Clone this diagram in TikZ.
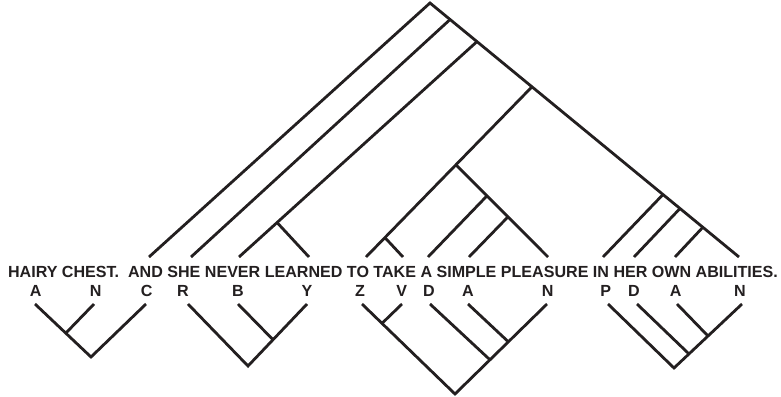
\documentclass[tikz,border=0pt]{standalone}
\usepackage{fontspec}
\setmainfont{Liberation Sans}
\usetikzlibrary{calc}
\definecolor{ink}{HTML}{231F20}
\begin{document}
\begin{tikzpicture}[x=1pt,y=-1pt,
  branch/.style={draw=ink,line width=2.8pt,line cap=butt,line join=miter},
  txt/.style={inner sep=0pt,anchor=base,text=ink,font=\fontsize{16.08}{18}\selectfont\bfseries}]
\useasboundingbox (0,0) rectangle (781,396);
% sentence and letters
\node[txt] (sent) at (393,277) {HAIRY CHEST.\ \ AND SHE NEVER LEARNED TO TAKE A SIMPLE PLEASURE IN HER OWN ABILITIES.};
\foreach \n/\x/\l in {a1/35.7/A,n1/95.7/N,c1/146.7/C,r2/183/R,b2/238/B,y2/307/Y,z3/360/Z,v3/401.7/V,d3/429/D,a3/468/A,n3/547.7/N,p4/605.7/P,d4/634/D,a4/675.7/A,n4/740/N}
  \node[txt] (\n) at (\x,296) {\l};
% upper tree
\coordinate (T) at (430,3);
\coordinate (R) at (739,257);
\coordinate (L0) at (149,257);
\coordinate (J1) at ($(T)!0.065!(R)$);
\coordinate (J2) at ($(T)!0.152!(R)$);
\coordinate (J3) at ($(T)!0.330!(R)$);
\coordinate (J5) at ($(T)!0.754!(R)$);
\coordinate (J6) at ($(T)!0.809!(R)$);
\coordinate (J7) at ($(T)!0.883!(R)$);
\coordinate (E1) at (191,257);
\coordinate (E2) at (239,257);
\coordinate (K2) at ($(J2)!0.840!(E2)$);
\coordinate (E2b) at (309,257);
\coordinate (E3) at (366,257);
\coordinate (K3a) at ($(J3)!0.458!(E3)$);
\coordinate (K3b) at ($(J3)!0.886!(E3)$);
\coordinate (E3b) at (403,257);
\coordinate (E4) at (548,257);
\coordinate (K4) at ($(K3a)!0.337!(E4)$);
\coordinate (K5) at ($(K3a)!0.565!(E4)$);
\coordinate (E4a) at (428,257);
\coordinate (E5a) at (469,257);
\coordinate (E5) at (603,257);
\coordinate (E6) at (634,257);
\coordinate (E7) at (675,257);
\draw[branch] (L0) -- (T) -- (R);
\draw[branch] (J1) -- (E1);
\draw[branch] (J2) -- (E2);
\draw[branch] (K2) -- (E2b);
\draw[branch] (J3) -- (E3);
\draw[branch] (K3b) -- (E3b);
\draw[branch] (K3a) -- (E4);
\draw[branch] (K4) -- (E4a);
\draw[branch] (K5) -- (E5a);
\draw[branch] (J5) -- (E5);
\draw[branch] (J6) -- (E6);
\draw[branch] (J7) -- (E7);
% lower tree 1
\coordinate (ta) at (35,304);
\coordinate (tn) at (94,304);
\coordinate (tc) at (146,304);
\coordinate (B1) at (91,357);
\coordinate (M1) at ($(ta)!0.55!(B1)$);
\draw[branch] (ta) -- (B1) -- (tc);
\draw[branch] (tn) -- (M1);
% lower tree 2
\coordinate (tr) at (188,304);
\coordinate (tb) at (238,304);
\coordinate (ty) at (307,304);
\coordinate (B2) at (248,366);
\coordinate (M2) at ($(ty)!0.576!(B2)$);
\draw[branch] (tr) -- (B2) -- (ty);
\draw[branch] (tb) -- (M2);
% lower tree 3
\coordinate (tz) at (362,304);
\coordinate (tv) at (402,304);
\coordinate (td) at (430,304);
\coordinate (tA) at (468,304);
\coordinate (tN) at (547,304);
\coordinate (B3) at (455,394);
\coordinate (M3v) at ($(tz)!0.215!(B3)$);
\coordinate (M3d) at ($(tN)!0.62!(B3)$);
\coordinate (M3a) at ($(tN)!0.42!(B3)$);
\draw[branch] (tz) -- (B3) -- (tN);
\draw[branch] (tv) -- (M3v);
\draw[branch] (td) -- (M3d);
\draw[branch] (tA) -- (M3a);
% lower tree 4
\coordinate (tp) at (608,304);
\coordinate (tD) at (637,304);
\coordinate (tAA) at (677,304);
\coordinate (tNN) at (742,304);
\coordinate (B4) at (674,368);
\coordinate (M4d) at ($(tNN)!0.78!(B4)$);
\coordinate (M4a) at ($(tNN)!0.50!(B4)$);
\draw[branch] (tp) -- (B4) -- (tNN);
\draw[branch] (tD) -- (M4d);
\draw[branch] (tAA) -- (M4a);
\end{tikzpicture}
\end{document}
